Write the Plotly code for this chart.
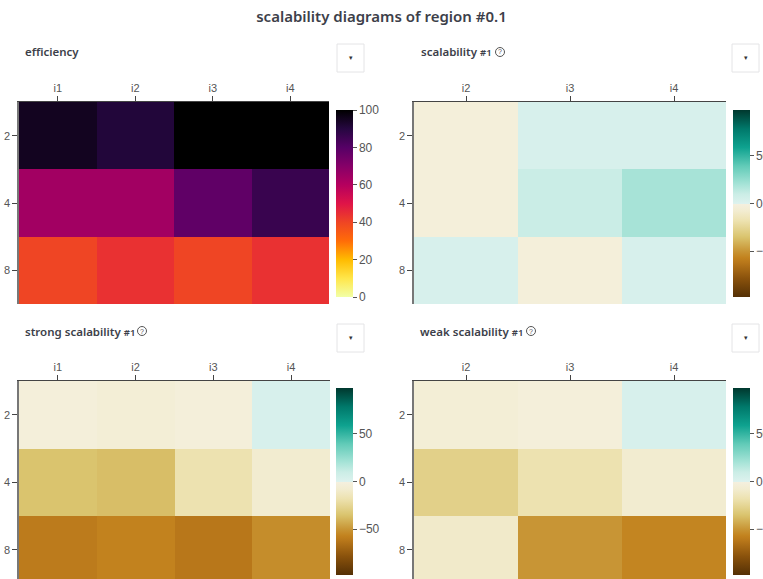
import plotly.graph_objects as go

# ---- data ----
threads = ["2", "4", "8"]
eff_cols = ["i1", "i2", "i3", "i4"]
scal_cols = ["i2", "i3", "i4"]

efficiency = [
    [95, 91, 100, 100],
    [64, 64, 78, 86],
    [40, 44, 40, 44],
]
scalability = [
    [-3, 3, 3],
    [-3, 10, 20],
    [3, -3, 3],
]
strong_scal = [
    [-3, -5, -3, 3],
    [-35, -37, -18, -8],
    [-60, -57, -62, -53],
]
weak_scal = [
    [-5, -3, 3],
    [-28, -18, -8],
    [-10, -50, -56],
]

W, H = 763, 579

def px_x(x):
    return x / W

def px_y(y):
    return 1 - y / H

eff_scale = [
    [0.0, "#f2ffa6"],
    [0.1, "#ffe64a"],
    [0.2, "#ffbb00"],
    [0.3, "#ff6c08"],
    [0.4, "#ef4524"],
    [0.5, "#df1448"],
    [0.6, "#b5005e"],
    [0.7, "#860068"],
    [0.8, "#560066"],
    [0.9, "#260740"],
    [1.0, "#000000"],
]
div_scale = [
    [0.0, "#543005"],
    [0.1, "#8a520c"],
    [0.184, "#b8771a"],
    [0.209, "#c2821e"],
    [0.245, "#c89535"],
    [0.321, "#dac46e"],
    [0.408, "#ede2b0"],
    [0.459, "#f2ecd0"],
    [0.4999, "#f5f0e0"],
    [0.5, "#ddf2ee"],
    [0.55, "#cbede6"],
    [0.6, "#a8e4d8"],
    [0.7, "#62cbb8"],
    [0.8, "#0ea28f"],
    [0.9, "#00786a"],
    [1.0, "#00382e"],
]

fig = go.Figure()

tickfont = dict(family="Liberation Sans, Arial", size=11, color="#555")
cbfont = dict(family="Liberation Sans, Arial", size=12, color="#555")

panels = [
    (efficiency, eff_cols, eff_scale, 0, 100, (19, 329), (102, 304), 336, 203.5, [2.5, -0.5]),
    (scalability, scal_cols, div_scale, -98, 98, (414, 726), (102, 304), 733, 203.5, [2.5, -0.5]),
    (strong_scal, eff_cols, div_scale, -98, 98, (19, 330), (381, 579), 336, 481.5, [2.433, -0.5]),
    (weak_scal, scal_cols, div_scale, -98, 98, (414, 726), (381, 579), 733, 481.5, [2.433, -0.5]),
]

for i, (z, cols, cmap, zmin, zmax, xd, yd, cbx, cby, yr) in enumerate(panels):
    n = "" if i == 0 else str(i + 1)
    fig.add_trace(go.Heatmap(
        z=z, x=cols, y=threads,
        colorscale=cmap, zmin=zmin, zmax=zmax,
        xaxis="x" + n, yaxis="y" + n,
        colorbar=dict(
            x=px_x(cbx), xanchor="left", xpad=0, ypad=0,
            y=px_y(cby), yanchor="middle",
            len=187, lenmode="pixels", thickness=17,
            outlinewidth=0, ticks="outside", ticklen=4, tickcolor="#555",
            tickfont=cbfont,
        ),
    ))
    fig.update_layout(**{
        "xaxis" + n: dict(
            domain=[px_x(xd[0]), px_x(xd[1])], anchor="y" + n, side="top",
            type="category", showline=True, linecolor="#444", linewidth=1,
            ticks="outside", ticklen=5, tickcolor="#444", tickfont=tickfont,
            showgrid=False, zeroline=False,
        ),
        "yaxis" + n: dict(
            domain=[px_y(yd[1]), px_y(yd[0])], anchor="x" + n,
            type="category", range=yr, showline=True, linecolor="#777", linewidth=1.5,
            ticks="outside", ticklen=5, tickcolor="#444", tickfont=tickfont,
            showgrid=False, zeroline=False,
        ),
    })

titles = [
    ("efficiency", 23, 52),
    ("scalability <span style='font-size:9.5px'>#1</span>", 419, 52),
    ("strong scalability <span style='font-size:9.5px'>#1</span>", 23, 331),
    ("weak scalability <span style='font-size:9.5px'>#1</span>", 418, 331),
]
annotations = []
for t, x, y in titles:
    annotations.append(dict(
        text=t, xref="paper", yref="paper", x=px_x(x), y=px_y(y),
        xanchor="left", yanchor="middle", showarrow=False,
        font=dict(family="Noto Sans", size=11.5, color="#3d3f4a", weight=600),
    ))

shapes = []
icons = [(500, 52), (142, 331), (531, 331)]
for cx, cy in icons:
    shapes.append(dict(
        type="circle", xref="paper", yref="paper",
        x0=px_x(cx - 4.5), x1=px_x(cx + 4.5), y0=px_y(cy + 4.5), y1=px_y(cy - 4.5),
        line=dict(color="#555", width=1),
    ))
    annotations.append(dict(
        text="?", xref="paper", yref="paper", x=px_x(cx), y=px_y(cy),
        xanchor="center", yanchor="middle", showarrow=False,
        font=dict(family="Liberation Sans", size=7, color="#555"),
    ))

# dropdown-like buttons
for mx, my in [(337, 44), (732, 44), (337, 324), (732, 324)]:
    shapes.append(dict(
        type="rect", xref="paper", yref="paper",
        x0=px_x(mx), x1=px_x(mx + 27), y0=px_y(my + 28), y1=px_y(my),
        fillcolor="white", line=dict(color="#e4e4e6", width=1),
    ))
    annotations.append(dict(
        text="▾", xref="paper", yref="paper", x=px_x(mx + 13.5), y=px_y(my + 14),
        xanchor="center", yanchor="middle", showarrow=False,
        font=dict(family="DejaVu Sans", size=7, color="#333"),
    ))

fig.update_layout(
    width=W, height=H,
    margin=dict(l=0, r=0, t=0, b=0, autoexpand=False),
    paper_bgcolor="white", plot_bgcolor="white",
    font=dict(color="#555"),
    title=dict(
        text="scalability diagrams of region #0.1",
        x=0.5, xanchor="center", xref="paper",
        y=px_y(17), yanchor="middle", yref="container",
        font=dict(family="Noto Sans", size=15, color="#3d3f4a", weight=600),
    ),
    annotations=annotations,
    shapes=shapes,
)

fig.write_html(
    "out.html",
    config={"displayModeBar": False},
    post_script="document.body.style.margin='0';",
)
